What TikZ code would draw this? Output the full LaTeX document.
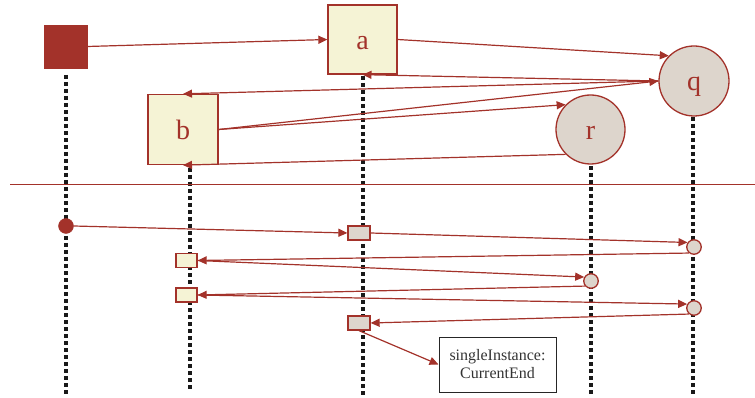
\documentclass[tikz,border=0pt]{standalone}
\usepackage{fontspec}
\setmainfont{Liberation Serif}
\usetikzlibrary{arrows.meta}
\definecolor{brick}{HTML}{A3322A}
\definecolor{cream}{HTML}{F5F3D5}
\definecolor{stone}{HTML}{DDD5CC}
\definecolor{ink}{HTML}{333333}
\tikzset{
  msg/.style={draw=brick, line width=1.2pt, -{Triangle[length=9pt,width=8pt]}},
  link/.style={draw=brick, line width=1.2pt},
  lifeline/.style={draw=black!90, line width=3.5pt, dash pattern=on 4pt off 3pt},
  sqobj/.style={draw=brick, fill=brick, minimum size=43pt, inner sep=0pt},
  labelfont/.style={text=brick, font=\fontsize{28}{32}\selectfont, text height=20pt, text depth=0pt},
  classobj/.style={draw=brick, fill=cream, line width=1.3pt, minimum size=69pt, inner sep=0pt, labelfont},
  instobj/.style={circle, draw=brick, fill=stone, line width=1.3pt, minimum size=69pt, inner sep=0pt, labelfont},
  startdot/.style={circle, fill=brick, draw=brick, minimum size=15pt, inner sep=0pt},
  actgrey/.style={draw=brick, fill=stone, line width=1.3pt, minimum width=22pt, minimum height=14pt, inner sep=0pt},
  actcream/.style={draw=brick, fill=cream, line width=1.3pt, minimum width=21pt, minimum height=14pt, inner sep=0pt},
  actdot/.style={circle, draw=brick, fill=stone, line width=1.3pt, minimum size=14.5pt, inner sep=0pt},
  notebox/.style={draw=black!85, line width=1pt, minimum width=117pt, minimum height=55pt,
    align=center, text=ink, font=\fontsize{16}{18}\selectfont}
}
\begin{document}
\begin{tikzpicture}[x=1pt, y=-1pt]
  \useasboundingbox (0,0) rectangle (755,398);

  % objects of the upper diagram
  \node[sqobj] (s) at (65.5,46.5) {};
  \node[classobj] (a) at (362.5,39.5) {a};
  \node[classobj, minimum size=70pt] (b) at (183,129.5) {b};
  \node[instobj, minimum size=70pt] (q) at (694,81) {q};
  \node[instobj] (r) at (590.5,129.5) {r};

  % lifeline ends
  \coordinate (sTop) at (66,75);
  \coordinate (sBot) at (66,396);
  \coordinate (bTop) at (190,168);
  \coordinate (bBot) at (190,390);
  \coordinate (aTop) at (363,76);
  \coordinate (aBot) at (363,396);
  \coordinate (rTop) at (591,166);
  \coordinate (rBot) at (591,396);
  \coordinate (qTop) at (693,117);
  \coordinate (qBot) at (693,396);

  \draw[lifeline] (sTop) -- (sBot);
  \draw[lifeline] (bTop) -- (bBot);
  \draw[lifeline] (aTop) -- (aBot);
  \draw[lifeline] (rTop) -- (rBot);
  \draw[lifeline] (qTop) -- (qBot);

  % messages between the objects
  \draw[msg] (s.east) -- (a.west);
  \draw[msg] (a.east) -- (q.135);
  \draw[msg] (q.west) -- (a.south);
  \draw[msg] (q.west) -- (b.north);
  \draw[msg] (b.east) -- (q.west);
  \draw[msg] (b.east) -- (r.135);
  \draw[msg] (r.225) -- (b.south);

  % separator
  \coordinate (divL) at (10,184.5);
  \coordinate (divR) at (755,184.5);
  \draw[link] (divL) -- (divR);

  % activations of the lower diagram
  \node[startdot] (st) at (66,226) {};
  \node[actgrey] (g1) at (359,233) {};
  \node[actdot] (q1) at (694,247) {};
  \node[actcream] (b1) at (186.5,260.5) {};
  \node[actdot] (r1) at (591,281) {};
  \node[actcream] (b2) at (186.5,295) {};
  \node[actdot] (q2) at (694,308) {};
  \node[actgrey] (g2) at (359,323) {};
  \node[notebox] (ce) at (497.5,364.5) {singleInstance:\\CurrentEnd};

  \draw[msg] (st.east) -- (g1.west);
  \draw[msg] (g1.east) -- (q1.145);
  \draw[msg] (q1.230) -- (b1.east);
  \draw[msg] (b1.east) -- (r1.150);
  \draw[msg] (r1.220) -- (b2.east);
  \draw[msg] (b2.east) -- (q2.150);
  \draw[msg] (q2.230) -- (g2.east);
  \draw[msg] (g2.south) -- (ce.west);
\end{tikzpicture}
\end{document}
